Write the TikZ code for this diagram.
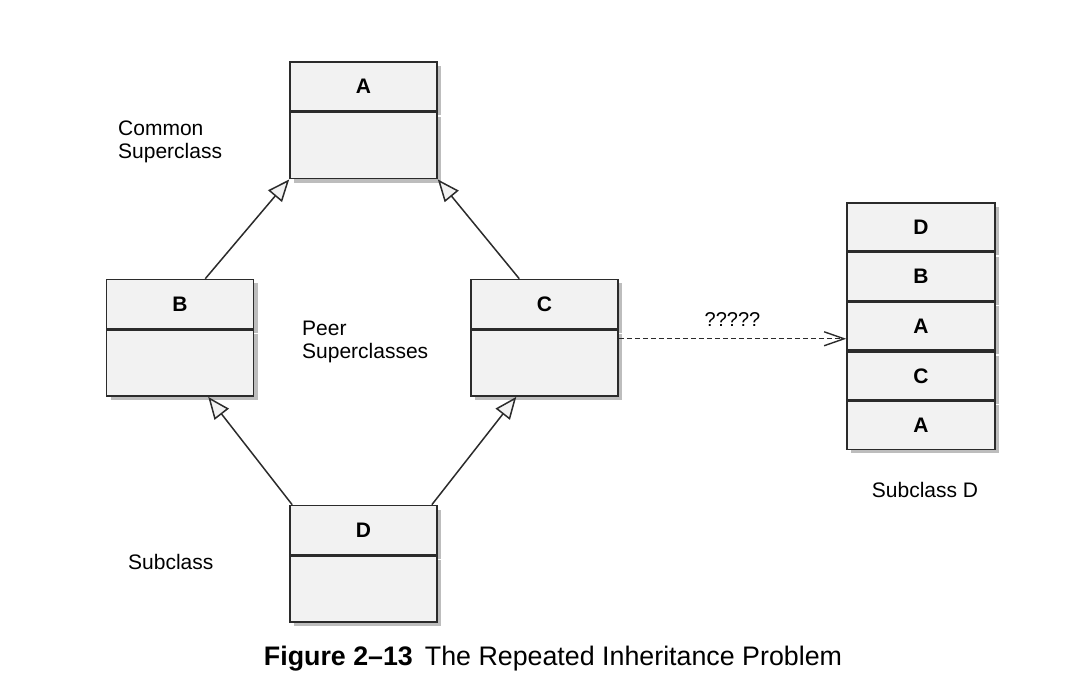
\documentclass[tikz,border=0pt]{standalone}
\usepackage{fontspec}
\setmainfont{Liberation Sans}
\definecolor{classFill}{HTML}{F2F2F2}
\definecolor{classLine}{HTML}{2B2B2B}
\definecolor{classShadow}{HTML}{BDBDBD}
\usetikzlibrary{arrows.meta, positioning, calc, shadows}

\begin{document}
\begin{tikzpicture}[
  x=1pt, y=-1pt,
  classtitle/.style={
    draw=classLine, fill=classFill, line width=1.6pt,
    minimum width=147pt, minimum height=49pt, inner sep=0pt,
    font=\fontsize{21}{23}\selectfont\bfseries,
    drop shadow={shadow xshift=4pt, shadow yshift=-4pt, fill=classShadow, opacity=1}
  },
  classbody/.style={classtitle, minimum height=66pt},
  stackrow/.style={classtitle, minimum width=148pt, minimum height=48pt},
  note/.style={font=\fontsize{21}{23}\selectfont, align=left, inner sep=0pt},
  inherit/.style={-{Triangle[length=22pt, width=18pt, fill=classFill]}, line width=1.5pt, color=classLine},
  depend/.style={-{Straight Barb[length=20pt, width=14pt]}, line width=1.4pt, color=classLine,
    dash pattern=on 5pt off 3pt}
]
  \useasboundingbox (0,0) rectangle (1078,700);

  % class boxes
  \node[classtitle] (Atitle) at (363.5,86.5) {A};
  \node[classbody, below=0pt of Atitle] (A) {};
  \node[classtitle] (Btitle) at (180,304) {B};
  \node[classbody, below=0pt of Btitle] (B) {};
  \node[classtitle] (Ctitle) at (544.5,304) {C};
  \node[classbody, below=0pt of Ctitle] (C) {};
  \node[classtitle] (Dtitle) at (363.5,530) {D};
  \node[classbody, below=0pt of Dtitle] (D) {};

  % memory layout of D
  \node[stackrow] (sD) at (921,227) {D};
  \node[stackrow, below=0pt of sD] (sB) {B};
  \node[stackrow, below=0pt of sB] (sA1) {A};
  \node[stackrow, below=0pt of sA1] (sC) {C};
  \node[stackrow, below=0pt of sC] (sA2) {A};

  % labels
  \node[note, anchor=west] (common) at (118,141.5) {Common\\Superclass};
  \node[note, anchor=west] (peer) at (302,342) {Peer\\Superclasses};
  \node[note, anchor=west] (sub) at (128,562) {Subclass};
  \node[note] (subD) at (925,490) {Subclass D};
  \node[note] (caption) at (553,659) {\fontsize{26.8}{30}\selectfont\textbf{Figure 2--13}\hspace{0.45em}The Repeated Inheritance Problem};

  % inheritance
  \draw[inherit] ($(Btitle.north)!0.34!(Btitle.north east)$) -- (A.south west);
  \draw[inherit] ($(Ctitle.north)!0.34!(Ctitle.north west)$) -- (A.south east);
  \draw[inherit] ($(Dtitle.north west)!0.02!(Dtitle.north east)$) -- ($(B.south)!0.38!(B.south east)$);
  \draw[inherit] ($(Dtitle.north east)!0.04!(Dtitle.north west)$) -- ($(C.south)!0.38!(C.south west)$);

  % ?????
  \coordinate (cOut) at ($(C.north east)!0.14!(C.south east)$);
  \draw[depend] (cOut) -- node[above=8pt, font=\fontsize{20}{23}\selectfont, color=black] {?????} (cOut -| sA1.west);
\end{tikzpicture}
\end{document}
